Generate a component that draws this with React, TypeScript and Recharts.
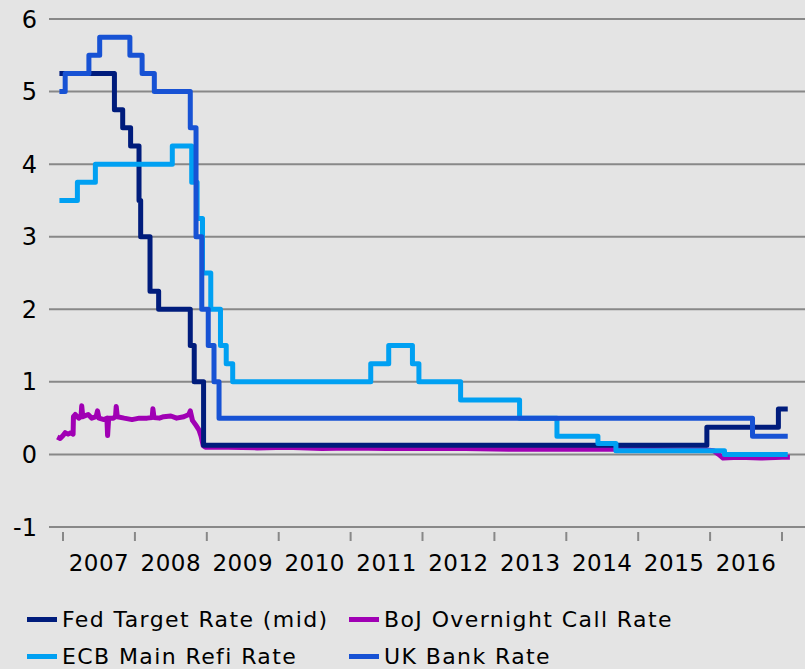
import { LineChart, Line, XAxis, YAxis, CartesianGrid, Legend } from "recharts";

// dates as fractional years, rates in percent
const fedDates = [2006.95, 2007.715, 2007.83, 2007.94, 2008.057, 2008.08, 2008.21, 2008.33, 2008.77, 2008.825, 2008.955, 2015.955, 2016.95, 2017.08];
const fedRates = [5.25, 4.75, 4.5, 4.25, 3.5, 3.0, 2.25, 2.0, 1.5, 1.0, 0.125, 0.375, 0.625, 0.625];

const ecbDates = [2006.95, 2007.2, 2007.45, 2008.52, 2008.79, 2008.865, 2008.94, 2009.055, 2009.19, 2009.27, 2009.36, 2011.28, 2011.53, 2011.86, 2011.95, 2012.53, 2013.35, 2013.87, 2014.44, 2014.69, 2016.2, 2017.08];
const ecbRates = [3.5, 3.75, 4.0, 4.25, 3.75, 3.25, 2.5, 2.0, 1.5, 1.25, 1.0, 1.25, 1.5, 1.25, 1.0, 0.75, 0.5, 0.25, 0.15, 0.05, 0.0, 0.0];

const ukDates = [2006.95, 2007.03, 2007.36, 2007.51, 2007.93, 2008.1, 2008.27, 2008.77, 2008.85, 2008.93, 2009.02, 2009.1, 2009.17, 2016.59, 2017.08];
const ukRates = [5.0, 5.25, 5.5, 5.75, 5.5, 5.25, 5.0, 4.5, 3.0, 2.0, 1.5, 1.0, 0.5, 0.25, 0.25];

const bojDates = [
  2006.92, 2006.96, 2007.0, 2007.03, 2007.07, 2007.11, 2007.14, 2007.145, 2007.17, 2007.22, 2007.25, 2007.26, 2007.275,
  2007.35, 2007.4, 2007.46, 2007.48, 2007.5, 2007.57, 2007.61, 2007.62, 2007.635, 2007.7, 2007.73, 2007.74, 2007.755,
  2007.85, 2007.96, 2008.06, 2008.17, 2008.24, 2008.25, 2008.265, 2008.34, 2008.4, 2008.5, 2008.58, 2008.68, 2008.75,
  2008.77, 2008.8, 2008.85, 2008.89, 2008.92, 2008.95, 2008.98, 2009.3, 2009.7, 2010.1, 2010.6, 2011.0, 2011.5, 2012.0,
  2012.6, 2013.2, 2013.8, 2014.4, 2015.0, 2015.6, 2015.95, 2016.05, 2016.12, 2016.18, 2016.4, 2016.7, 2017.0, 2017.11,
];
const bojRates = [
  0.24, 0.22, 0.26, 0.3, 0.28, 0.3, 0.28, 0.52, 0.55, 0.5, 0.52, 0.67, 0.52,
  0.55, 0.5, 0.52, 0.6, 0.5, 0.48, 0.5, 0.26, 0.5, 0.5, 0.52, 0.66, 0.52,
  0.5, 0.48, 0.5, 0.5, 0.51, 0.63, 0.51, 0.5, 0.52, 0.53, 0.5, 0.52, 0.55,
  0.6, 0.47, 0.4, 0.34, 0.25, 0.12, 0.1, 0.1, 0.09, 0.1, 0.08, 0.09, 0.08, 0.08,
  0.08, 0.07, 0.07, 0.07, 0.07, 0.06, 0.06, 0.05, 0.0, -0.05, -0.04, -0.05, -0.04, -0.04,
];

const yearTicks = [2007, 2008, 2009, 2010, 2011, 2012, 2013, 2014, 2015, 2016, 2017];
const yearLabels = ["2007", "2008", "2009", "2010", "2011", "2012", "2013", "2014", "2015", "2016"];
const rateTicks = [-1, 0, 1, 2, 3, 4, 5, 6];

const toPoints = (dates: number[], rates: number[]) => dates.map((t, i) => ({ t, v: rates[i] }));

const fedData = toPoints(fedDates, fedRates);
const ecbData = toPoints(ecbDates, ecbRates);
const ukData = toPoints(ukDates, ukRates);
const bojData = toPoints(bojDates, bojRates);

const labelTicks = yearLabels.map((y) => Number(y) + 0.5);
const allTicks = [...yearTicks, ...labelTicks];

const FONT = "'DejaVu Sans', Verdana, sans-serif";

const series = [
  { name: "Fed Target Rate (mid)", color: "#001c7c" },
  { name: "BoJ Overnight Call Rate", color: "#a000b4" },
  { name: "ECB Main Refi Rate", color: "#00a0f2" },
  { name: "UK Bank Rate", color: "#1752d4" },
];

const YearTick = ({ x, y, payload }: any) => {
  const v = payload.value as number;
  if (Number.isInteger(v)) {
    return <line x1={x} x2={x} y1={y + 5} y2={y + 14} stroke="#888" strokeWidth={2} />;
  }
  return (
    <text x={x} y={y + 44} textAnchor="middle" fontSize={23} fontFamily={FONT} fill="#000" letterSpacing={0.5}>
      {Math.floor(v)}
    </text>
  );
};

const LegendBox = () => (
  <div
    style={{
      display: "grid",
      gridTemplateColumns: "322px 420px",
      paddingLeft: 27,
      paddingTop: 22,
      fontFamily: FONT,
      fontSize: 22,
      letterSpacing: 1.4,
      color: "#000",
    }}
  >
    {series.map((s) => (
      <div key={s.name} style={{ display: "flex", alignItems: "center", height: 37, whiteSpace: "nowrap" }}>
        <span style={{ display: "inline-block", width: 30, height: 5, background: s.color, marginRight: 5 }} />
        {s.name}
      </div>
    ))}
  </div>
);

export default function App() {
  return (
    <div style={{ position: "absolute", left: 0, top: 0, width: 805, height: 669, background: "#e4e4e4", overflow: "hidden" }}>
      <LineChart width={805} height={669} margin={{ top: 19, right: 0, bottom: 0, left: 0 }}>
        <CartesianGrid vertical={false} stroke="#888" strokeWidth={2} />
        <XAxis
          dataKey="t"
          type="number"
          domain={[2006.805, 2017.32]}
          allowDataOverflow
          ticks={allTicks}
          interval={0}
          tick={<YearTick />}
          tickLine={false}
          axisLine={false}
          tickSize={0}
          tickMargin={0}
          height={52}
        />
        <YAxis
          type="number"
          domain={[-1, 6]}
          ticks={rateTicks}
          width={49}
          axisLine={false}
          tickLine={false}
          tickMargin={6}
          tick={{ fontSize: 24, fontFamily: FONT, fill: "#000" }}
        />
        <Legend verticalAlign="bottom" height={90} wrapperStyle={{ left: 0, bottom: 0, width: 805 }} content={<LegendBox />} />
        <Line data={bojData} dataKey="v" type="linear" stroke={series[1].color} strokeWidth={5} strokeLinejoin="round" dot={false} isAnimationActive={false} />
        <Line data={fedData} dataKey="v" type="stepAfter" stroke={series[0].color} strokeWidth={5} strokeLinejoin="round" dot={false} isAnimationActive={false} />
        <Line data={ecbData} dataKey="v" type="stepAfter" stroke={series[2].color} strokeWidth={5} strokeLinejoin="round" dot={false} isAnimationActive={false} />
        <Line data={ukData} dataKey="v" type="stepAfter" stroke={series[3].color} strokeWidth={5} strokeLinejoin="round" dot={false} isAnimationActive={false} />
      </LineChart>
    </div>
  );
}
